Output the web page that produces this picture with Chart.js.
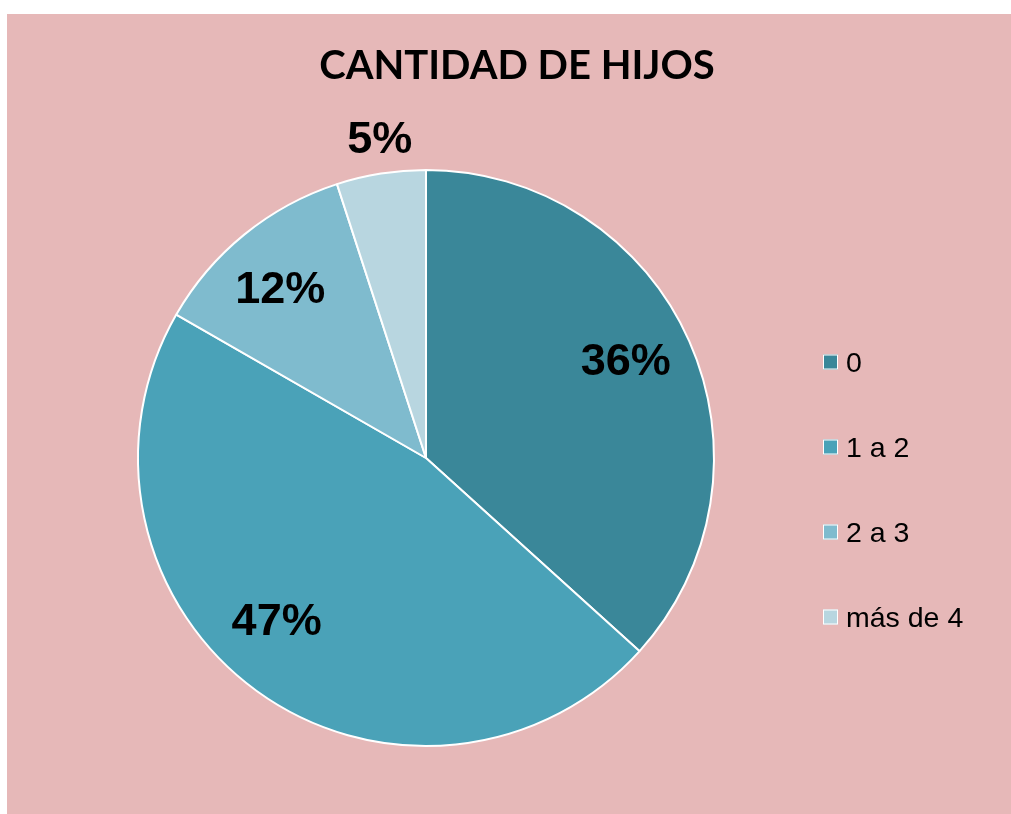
<!DOCTYPE html>
<html>
<head>
<meta charset="utf-8">
<script src="https://cdn.jsdelivr.net/npm/chart.js@4.4.0/dist/chart.umd.min.js"></script>
<style>
  html, body { margin: 0; padding: 0; background: #ffffff; }
  #wrap { position: absolute; left: 7px; top: 14px; width: 1004px; height: 800px; background: #E6B8B8; }
  canvas { display: block; }
</style>
</head>
<body>
<div id="wrap"><canvas id="c" width="1004" height="800"></canvas></div>
<script>
const chartTitle = 'CANTIDAD DE HIJOS';
const categories = ['0', '1 a 2', '2 a 3', 'más de 4'];
const values = [36.7, 46.6, 11.7, 5.0];
const valueLabels = ['36%', '47%', '12%', '5%'];
const sliceColors = ['#3A8799', '#4AA2B8', '#7FBBCE', '#B8D6E0'];

const titlePlugin = {
  id: 'titleDraw',
  afterDraw(chart) {
    const ctx = chart.ctx;
    ctx.save();
    ctx.fillStyle = '#000';
    ctx.font = 'bold 40px Lato';
    ctx.textAlign = 'center';
    ctx.textBaseline = 'middle';
    ctx.fillText(chartTitle, 510, 52);
    ctx.restore();
  }
};

const labelPlugin = {
  id: 'sliceLabels',
  afterDatasetsDraw(chart, args, opts) {
    const ctx = chart.ctx;
    const meta = chart.getDatasetMeta(0);
    const data = chart.data.datasets[0].data;
    const total = data.reduce((a, b) => a + b, 0);
    ctx.save();
    ctx.fillStyle = '#000';
    ctx.font = 'bold 45px "Liberation Sans", Arial, sans-serif';
    ctx.textAlign = 'center';
    ctx.textBaseline = 'middle';
    meta.data.forEach((arc, i) => {
      const p = arc.getProps(['x', 'y', 'startAngle', 'endAngle', 'outerRadius'], true);
      const mid = (p.startAngle + p.endAngle) / 2;
      const pct = data[i] / total * 100;
      const f = pct < 8 ? 1.115 : 0.77;
      const r = p.outerRadius * f;
      const nudge = opts.nudge[i] || [0, 0];
      ctx.fillText(valueLabels[i], p.x + Math.cos(mid) * r + nudge[0], p.y + Math.sin(mid) * r + 1 + nudge[1]);
    });
    ctx.restore();
  }
};

const legendPlugin = {
  id: 'customLegend',
  afterDraw(chart) {
    const ctx = chart.ctx;
    const labels = chart.data.labels;
    const colors = chart.data.datasets[0].backgroundColor;
    ctx.save();
    ctx.font = '28.5px "Liberation Sans", Arial, sans-serif';
    ctx.textBaseline = 'middle';
    ctx.textAlign = 'left';
    labels.forEach((lab, i) => {
      const y = 348 + i * 85;
      ctx.fillStyle = colors[i];
      ctx.fillRect(816, y - 7.5, 15, 15);
      ctx.strokeStyle = '#ffffff';
      ctx.lineWidth = 1;
      ctx.strokeRect(816.5, y - 7, 14, 14);
      ctx.fillStyle = '#000';
      ctx.fillText(lab, 839, y + 2);
    });
    ctx.restore();
  }
};

new Chart(document.getElementById('c'), {
  type: 'pie',
  data: {
    labels: categories,
    datasets: [{
      data: values,
      backgroundColor: sliceColors,
      borderColor: '#ffffff',
      borderWidth: 2,
      hoverOffset: 0
    }]
  },
  options: {
    responsive: false,
    animation: false,
    radius: 288,
    layout: { padding: { left: 100, right: 266, top: 150, bottom: 62 } },
    plugins: {
      legend: { display: false },
      tooltip: { enabled: false },
      title: { display: false },
      sliceLabels: { nudge: [[-3, -6], [-19, -16], [-6, 4], [4, -1]] }
    }
  },
  plugins: [titlePlugin, labelPlugin, legendPlugin]
});
</script>
</body>
</html>
